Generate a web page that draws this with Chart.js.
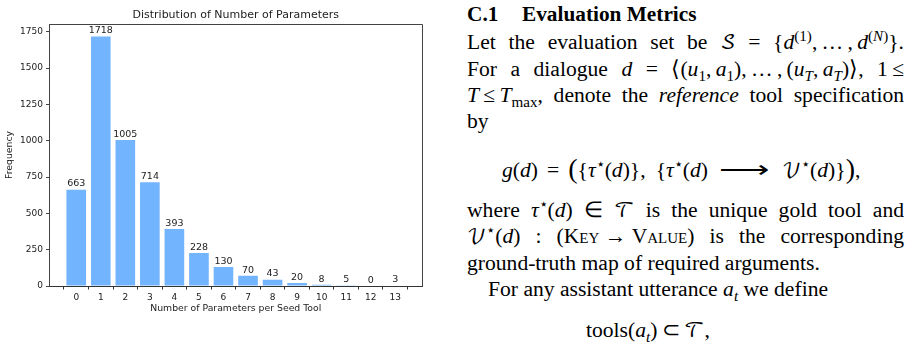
<!DOCTYPE html>
<html>
<head>
<meta charset="utf-8">
<script src="https://cdn.jsdelivr.net/npm/chart.js@4.4.1/dist/chart.umd.min.js"></script>
<style>
  html, body { margin: 0; padding: 0; background: #fff; }
  body { width: 909px; height: 349px; position: relative; overflow: hidden; }
  #chartBox { position: absolute; left: 0; top: 0; width: 440px; height: 349px; }
  .tx { position: absolute; font-family: "Liberation Serif", "Times New Roman", serif; font-size: 21.6px;
        line-height: 26px; color: #000; white-space: nowrap; }
  .jl { left: 467px; width: 437px; text-align: justify; text-align-last: justify; white-space: normal; }
  .mi { display: inline-block; white-space: nowrap; }
  .m { font-style: italic; }
  .cal { font-family: "DejaVu Math TeX Gyre", "DejaVu Serif", "DejaVu Sans", serif; font-style: normal; font-size: 0.92em; }
  sub, sup { font-size: 0.7em; line-height: 0; }
  .sc { font-variant: small-caps; }
  .h { font-weight: bold; font-size: 21.3px; }
  .big { font-size: 1.3em; line-height: 0; position: relative; top: 1px; }
  .arr { display: inline-block; transform: scaleX(1.6); margin: 0 21px; }
</style>
</head>
<body>
<div id="chartBox"><canvas id="myChart" width="440" height="349"></canvas></div>

<div class="tx h" style="left:467px; top:1px;"><span style="display:inline-block; width:55px;">C.1</span>Evaluation Metrics</div>
<div class="tx jl" style="top:29px;">Let the evaluation set be <span class="mi cal">𝒮</span> <span class="mi">=</span> <span class="mi">{<span class="m">d</span><sup>(1)</sup>,&thinsp;…&thinsp;,&thinsp;<span class="m">d</span><sup>(<span class="m">N</span>)</sup>}.</span></div>
<div class="tx jl" style="top:56px;">For a dialogue <span class="mi m">d</span> <span class="mi">=</span> <span class="mi">⟨(<span class="m">u</span><sub>1</sub>,&thinsp;<span class="m">a</span><sub>1</sub>),&thinsp;…&thinsp;,&thinsp;(<span class="m">u<sub>T</sub></span>,&thinsp;<span class="m">a<sub>T</sub></span>)⟩,</span> <span class="mi">1&thinsp;≤</span></div>
<div class="tx jl" style="top:82px;"><span class="mi"><span class="m">T</span>&thinsp;≤&thinsp;<span class="m">T</span><sub>max</sub>,</span> denote the <i>reference</i> tool specification</div>
<div class="tx" style="left:467px; top:108px;">by</div>
<div class="tx" style="left:502px; top:157px;"><span class="m">g</span>(<span class="m">d</span>)<span style="margin:0 9px;">=</span><span class="big">(</span>{<span class="m">τ</span><sup>⋆</sup>(<span class="m">d</span>)},<span style="margin-left:10px;">{</span><span class="m">τ</span><sup>⋆</sup>(<span class="m">d</span>)<span class="arr">⟶</span><span class="cal">𝒱</span><sup>⋆</sup>(<span class="m">d</span>)}<span class="big">)</span>,</div>
<div class="tx jl" style="top:197px;">where <span class="mi"><span class="m">τ</span><sup>⋆</sup>(<span class="m">d</span>)</span> <span class="mi">∈</span> <span class="mi cal">𝒯</span> is the unique gold tool and</div>
<div class="tx jl" style="top:223px;"><span class="mi"><span class="cal">𝒱</span><sup>⋆</sup>(<span class="m">d</span>)</span> <span class="mi">:</span> <span class="mi">(<span class="sc">Key</span> → <span class="sc">Value</span>)</span> is the corresponding</div>
<div class="tx" style="left:467px; top:250px;">ground-truth map of required arguments.</div>
<div class="tx" style="left:488px; top:276px;">For any assistant utterance <span class="m">a<sub>t</sub></span> we define</div>
<div class="tx" style="left:586px; top:317px;">tools(<span class="m">a<sub>t</sub></span>)&thinsp;⊂&thinsp;<span class="cal">𝒯</span>,</div>

<script>
let paramCounts = [0, 1, 2, 3, 4, 5, 6, 7, 8, 9, 10, 11, 12, 13];
let frequencies = [663, 1718, 1005, 714, 393, 228, 130, 70, 43, 20, 8, 5, 0, 3];
let yTicks = [0, 250, 500, 750, 1000, 1250, 1500, 1750];
let barColor = '#72b4fe';
let chartTitle = 'Distribution of Number of Parameters';

let points = paramCounts.map((p, i) => ({ x: p, y: frequencies[i] }));

// top + right spines and the title centred over the axes box
let frame = {
    id: 'frame',
    afterDraw(chart) {
        let a = chart.chartArea, ctx = chart.ctx;
        ctx.save();
        ctx.strokeStyle = '#444';
        ctx.lineWidth = 1;
        ctx.beginPath();
        ctx.moveTo(a.left, a.top + 0.5);
        ctx.lineTo(a.right + 0.5, a.top + 0.5);
        ctx.lineTo(a.right + 0.5, a.bottom);
        ctx.stroke();
        ctx.font = '11px "DejaVu Sans"';
        ctx.fillStyle = '#222';
        ctx.textAlign = 'center';
        ctx.textBaseline = 'middle';
        ctx.fillText(chartTitle, (a.left + a.right) / 2, 15);
        ctx.restore();
    }
};

// value labels above bars
let barLabels = {
    id: 'barLabels',
    afterDatasetsDraw(chart) {
        let ctx = chart.ctx;
        let meta = chart.getDatasetMeta(0);
        ctx.save();
        ctx.font = '9.5px "DejaVu Sans"';
        ctx.fillStyle = '#222';
        ctx.textAlign = 'center';
        ctx.textBaseline = 'bottom';
        meta.data.forEach((bar, i) => {
            ctx.fillText(String(frequencies[i]), bar.x, bar.y - 1);
        });
        ctx.restore();
    }
};

let ctx = document.getElementById('myChart').getContext('2d');

let chart = new Chart(ctx, {
    type: 'bar',
    data: {
        datasets: [{
            data: points,
            backgroundColor: barColor,
            barPercentage: 0.8,
            categoryPercentage: 1.0
        }]
    },
    plugins: [frame, barLabels],
    options: {
        responsive: false,
        animation: false,
        layout: { padding: { left: 0, right: 18, top: 24, bottom: 0 } },
        plugins: {
            legend: { display: false },
            tooltip: { enabled: false },
            title: { display: false }
        },
        scales: {
            x: {
                type: 'linear',
                offset: false,
                min: -1.09,
                max: 14.09,
                afterBuildTicks: s => { s.ticks = paramCounts.map(v => ({ value: v })); },
                afterFit: s => { s.height = 63; },
                grid: { drawOnChartArea: false, drawTicks: true, tickLength: 3.5, color: '#333' },
                border: { display: true, color: '#333', width: 1 },
                ticks: {
                    font: { family: 'DejaVu Sans', size: 9 },
                    color: '#222',
                    padding: 3,
                    maxRotation: 0,
                    autoSkip: false,
                    callback: v => String(v)
                },
                title: {
                    display: true,
                    text: 'Number of Parameters per Seed Tool',
                    font: { family: 'DejaVu Sans', size: 9.3 },
                    color: '#222',
                    padding: { top: 0, bottom: 34.4 }
                }
            },
            y: {
                min: 0,
                max: 1804,
                afterBuildTicks: s => { s.ticks = yTicks.map(v => ({ value: v })); },
                afterFit: s => { s.width = 49.5; },
                grid: { drawOnChartArea: false, drawTicks: true, tickLength: 3.5, color: '#444' },
                border: { display: true, color: '#444', width: 1 },
                ticks: {
                    font: { family: 'DejaVu Sans', size: 9 },
                    color: '#222',
                    padding: 3,
                    callback: v => String(v)
                },
                title: {
                    display: true,
                    text: 'Frequency',
                    font: { family: 'DejaVu Sans', size: 9.3 },
                    color: '#222',
                    padding: { top: 4.3, bottom: 0 }
                }
            }
        }
    }
});
</script>
</body>
</html>
